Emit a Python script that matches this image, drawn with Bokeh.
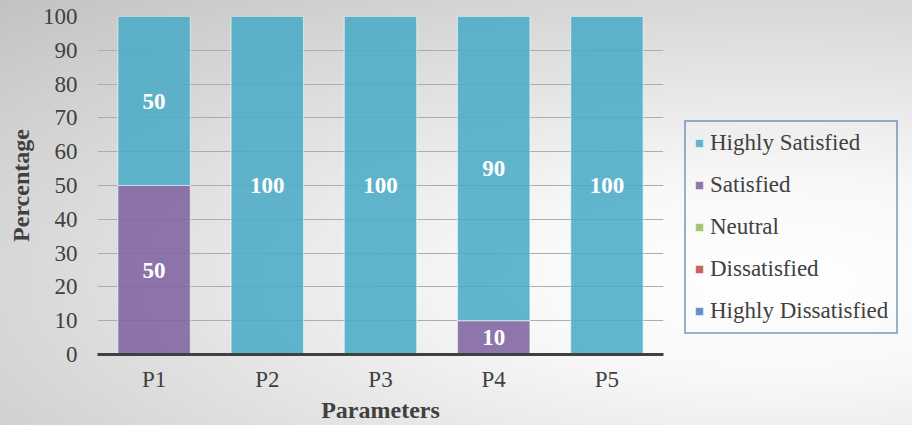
from bokeh.plotting import figure
from bokeh.models import Range1d, Legend, LegendItem, ColumnDataSource
from bokeh.core.properties import value
from bokeh.embed import file_html
from bokeh.resources import INLINE

# ---- data ----
categories = ["P1", "P2", "P3", "P4", "P5"]
highly_dissatisfied = [0, 0, 0, 0, 0]
dissatisfied = [0, 0, 0, 0, 0]
neutral = [0, 0, 0, 0, 0]
satisfied = [50, 0, 0, 10, 0]
highly_satisfied = [50, 100, 100, 90, 100]
series_names = ["Highly Dissatisfied", "Dissatisfied", "Neutral", "Satisfied", "Highly Satisfied"]
y_ticks = [0, 10, 20, 30, 40, 50, 60, 70, 80, 90, 100]

colors = ["#4F81BD", "#C0504D", "#9BBB59", "#8064A2", "#4BACC6"]
FONT = "Liberation Serif"

series_values = [highly_dissatisfied, dissatisfied, neutral, satisfied, highly_satisfied]
keys = ["hd", "d", "n", "s", "hs"]
data = {"cat": categories}
for k, v in zip(keys, series_values):
    data[k] = v
source = ColumnDataSource(data)

p = figure(x_range=categories, y_range=Range1d(0, 100),
           frame_width=566, frame_height=338,
           min_border_left=97, min_border_right=233, min_border_top=16, min_border_bottom=66,
           output_backend="svg", toolbar_location=None)
p.border_fill_color = None
p.background_fill_color = None
p.outline_line_color = None
p.styles = {"background": "radial-gradient(ellipse farthest-corner at 56% 66%, #ffffff 0%, #f8f8f8 25%, #c2c2c2 100%)"}

renderers = p.vbar_stack(keys, x="cat", width=0.64, source=source, color=colors,
                         fill_alpha=0.88, line_color="white", line_alpha=0.5, line_width=1.2)

# labels
lx, ly, lt = [], [], []
for i, c in enumerate(categories):
    base = 0
    for vals in series_values:
        v = vals[i]
        if v > 0:
            lx.append(c)
            ly.append(base + v / 2)
            lt.append(str(v))
        base += v
p.text(x=lx, y=ly, text=lt, text_color="white", text_font=value(FONT),
       text_font_size="23px", text_font_style="bold", text_align="center", text_baseline="middle")

# axes
p.yaxis.ticker = y_ticks
p.yaxis.axis_line_color = None
p.yaxis.major_tick_line_color = None
p.yaxis.minor_tick_line_color = None
p.yaxis.major_tick_out = 0
p.yaxis.major_tick_in = 0
p.yaxis.major_label_standoff = 20
p.yaxis.major_label_text_font = FONT
p.yaxis.major_label_text_font_size = "23px"
p.yaxis.major_label_text_color = "#404040"
p.yaxis.axis_label = "Percentage"
p.yaxis.axis_label_text_font = FONT
p.yaxis.axis_label_text_font_size = "24px"
p.yaxis.axis_label_text_font_style = "bold"
p.yaxis.axis_label_text_color = "#404040"
p.yaxis.axis_label_standoff = 6

p.xaxis.axis_line_color = "#404040"
p.xaxis.axis_line_width = 3
p.xaxis.major_tick_line_color = None
p.xaxis.minor_tick_line_color = None
p.xaxis.major_tick_out = 0
p.xaxis.major_tick_in = 0
p.xaxis.major_label_standoff = 12
p.xaxis.major_label_text_font = FONT
p.xaxis.major_label_text_font_size = "23px"
p.xaxis.major_label_text_color = "#404040"
p.xaxis.axis_label = "Parameters"
p.xaxis.axis_label_text_font = FONT
p.xaxis.axis_label_text_font_size = "24px"
p.xaxis.axis_label_text_font_style = "bold"
p.xaxis.axis_label_text_color = "#404040"
p.xaxis.axis_label_standoff = 2

p.xgrid.grid_line_color = None
p.ygrid.grid_line_color = "#adadad"
p.ygrid.grid_line_width = 1

items = [LegendItem(label=n, renderers=[r]) for n, r in zip(series_names, renderers)][::-1]
legend = Legend(items=items, location=(21, 20), orientation="vertical",
                label_text_font=FONT, label_text_font_size="23px", label_text_color="#404040",
                glyph_width=10, glyph_height=10, label_standoff=6, label_height=26,
                spacing=16, padding=8, margin=10,
                border_line_color="#3A62A0", border_line_width=2,
                background_fill_alpha=0)
p.add_layout(legend, "right")

open("out.html", "w").write(file_html(p, INLINE))
